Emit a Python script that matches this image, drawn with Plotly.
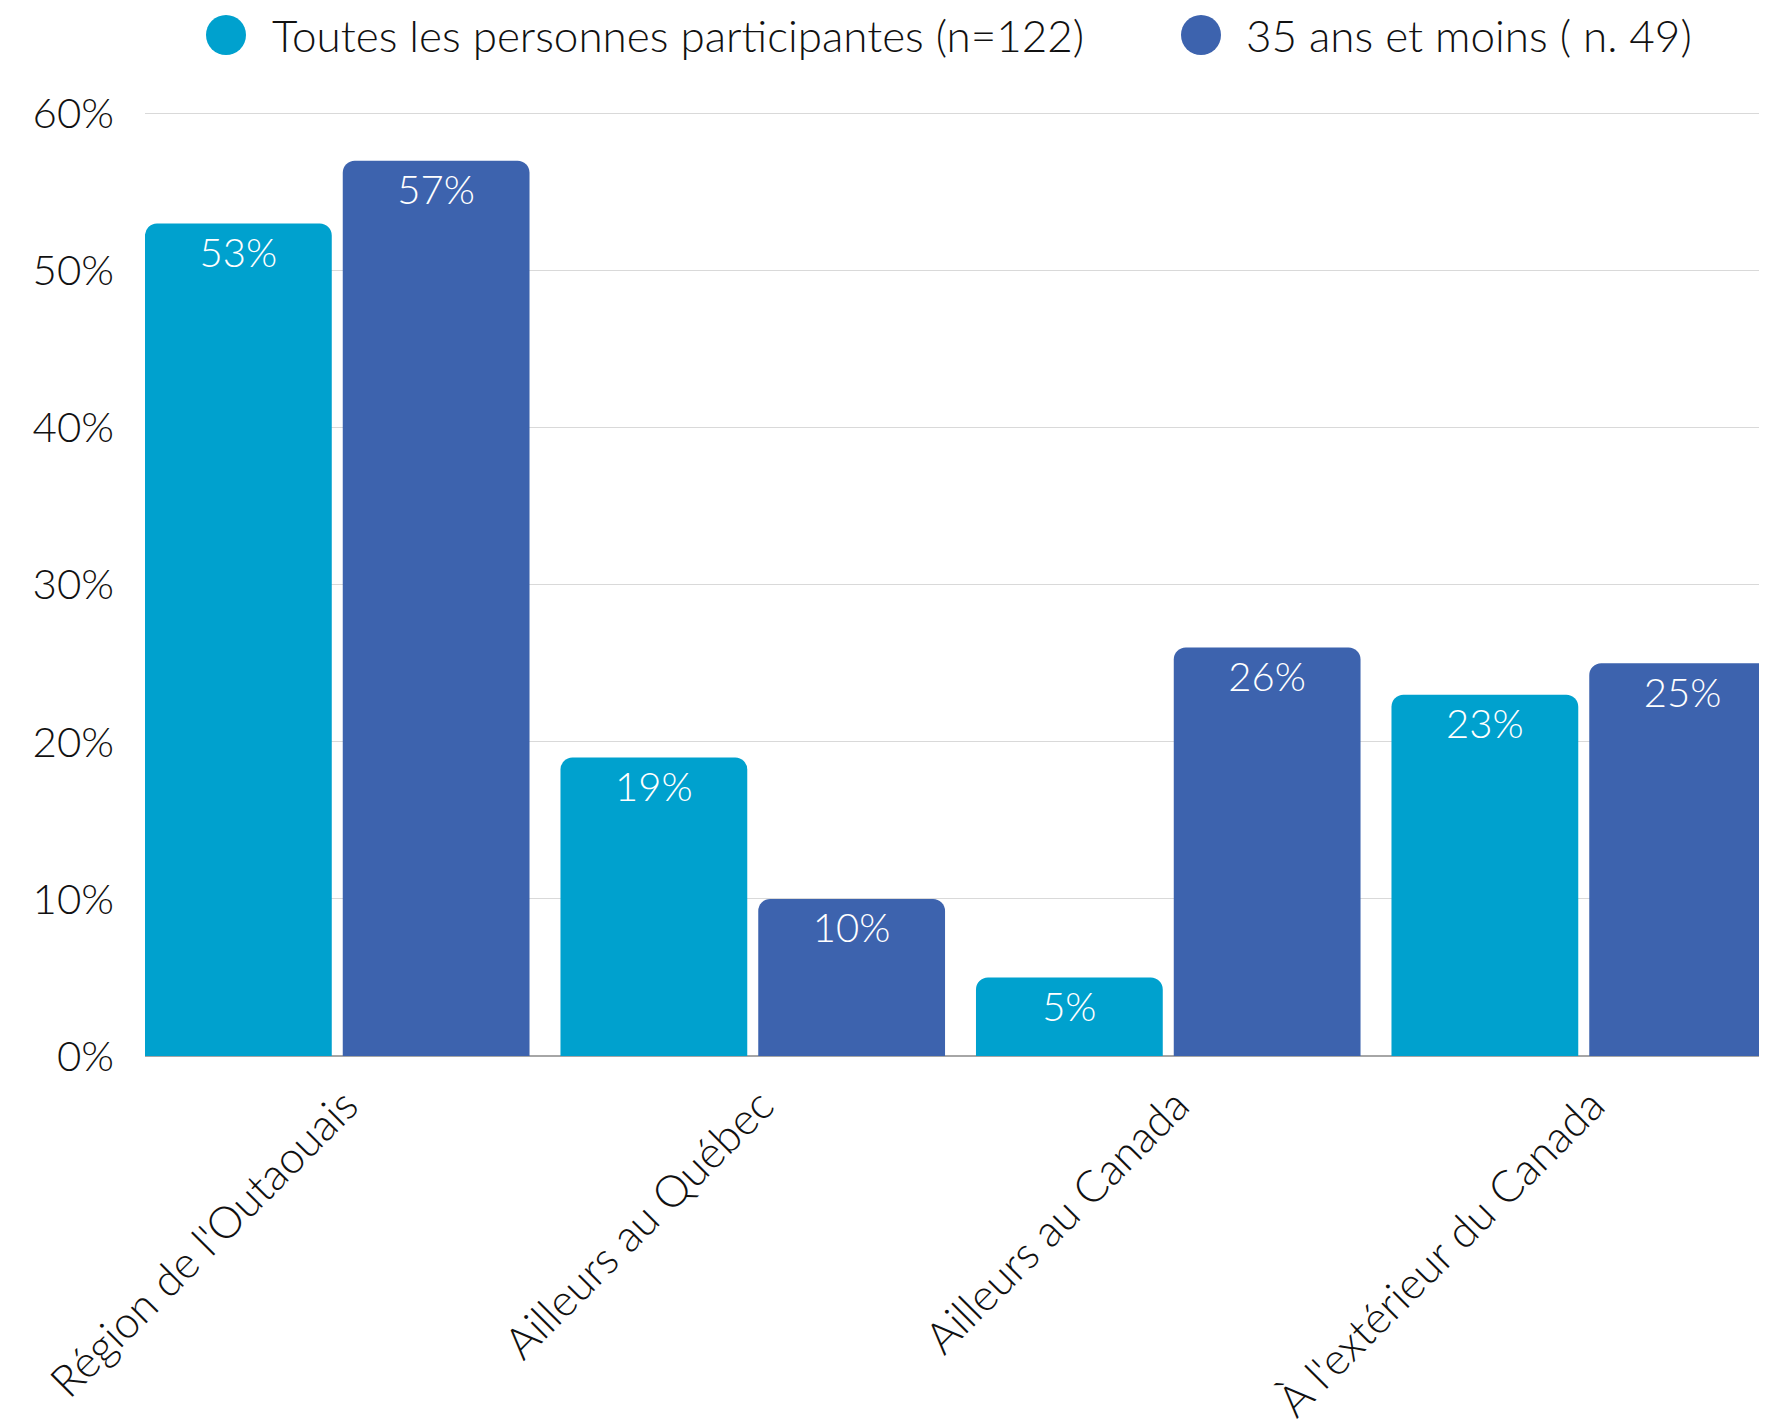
import plotly.graph_objects as go

CYAN = "#00A1CE"
NAVY = "#3D63AE"
GRID = "#D9D9D9"
TEXT = "#111111"
FONT = "Lato, Open Sans, Arial"

categories = ["Région de l'Outaouais", "Ailleurs au Québec", "Ailleurs au Canada", "À l'extérieur du Canada"]
all_participants = [53, 19, 5, 23]
under_35 = [57, 10, 26, 25]
series_names = ["Toutes les personnes participantes (n=122)", "35 ans et moins ( n. 49)"]
y_ticks = [0, 10, 20, 30, 40, 50, 60]

# page body has an 8px margin, so the figure sits 8px in from the window edge
W, H = 1759, 1418
L, T, B = 137, 104, 370

fig = go.Figure()
for name, vals, color in [(series_names[0], all_participants, CYAN), (series_names[1], under_35, NAVY)]:
    fig.add_trace(go.Bar(
        x=categories, y=vals, name=name, marker=dict(color=color, cornerradius=12, line=dict(width=0)),
        showlegend=False, hoverinfo="x+y",
    ))
# value labels: grouped like the bars, an invisible marker pushes the text just below the bar top
for vals in [all_participants, under_35]:
    fig.add_trace(go.Scatter(
        x=categories, y=vals, mode="markers+text", text=[f"{v}%" for v in vals], textposition="bottom center",
        marker=dict(size=20, color="rgba(0,0,0,0)"),
        textfont=dict(color="white", size=40, family=FONT, weight=300), showlegend=False, hoverinfo="skip",
    ))

fig.update_layout(
    width=W, height=H,
    margin=dict(l=L, r=0, t=T, b=B, autoexpand=False),
    plot_bgcolor="white", paper_bgcolor="white",
    font=dict(family=FONT, size=42, color=TEXT, weight=300),
    barmode="group", bargap=0.048, bargroupgap=0.0556,
    scattermode="group", scattergap=0.048,
)
fig.update_xaxes(range=[-0.4627, 3.441], tickangle=-45, showgrid=False, ticks="", ticklabelstandoff=14,
                 ticklabelshift=8, tickfont=dict(size=44, color=TEXT, family=FONT, weight=300),
                 automargin=False)
fig.update_yaxes(range=[0, 60.1], tickvals=y_ticks, ticktext=[f"{v}%" for v in y_ticks],
                 showgrid=True, gridcolor=GRID, gridwidth=1, zeroline=True, zerolinecolor="#A6A6A6",
                 zerolinewidth=1.5, ticks="", ticklabelstandoff=30,
                 tickfont=dict(size=42, color=TEXT, family=FONT, weight=300), automargin=False)

# legend drawn by hand so the round markers can be as large as in the original
plot_w = W - L
plot_h = H - T - B
legend_y = (H - B - 27) / plot_h
for name, color, cx, tx in [(series_names[0], CYAN, 218, 262), (series_names[1], NAVY, 1193, 1236)]:
    fig.add_shape(type="circle", xref="paper", yref="paper", xsizemode="pixel", ysizemode="pixel",
                  xanchor=(cx - L) / plot_w, yanchor=legend_y, x0=-20, x1=20, y0=-20, y1=20,
                  fillcolor=color, line=dict(width=0))
    fig.add_annotation(text=name, xref="paper", yref="paper", x=(tx - L) / plot_w, y=legend_y,
                       xanchor="left", yanchor="middle", showarrow=False,
                       font=dict(size=44, color=TEXT, family=FONT, weight=300))

fig.write_html("out.html")
